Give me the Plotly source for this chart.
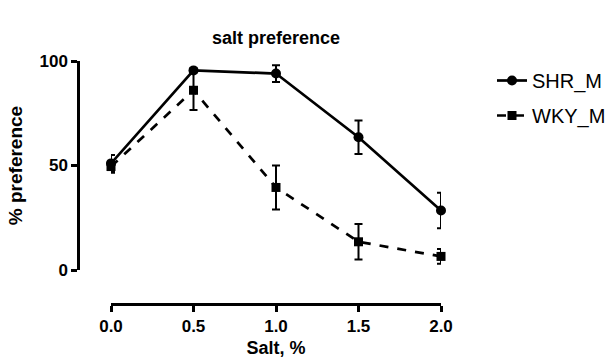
import plotly.graph_objects as go

salt = [0.0, 0.5, 1.0, 1.5, 2.0]
shr_m = [51, 95.5, 94, 63.5, 28.5]
shr_err = [4, 1, 4, 8, 8.5]
wky_m = [49.5, 86, 39.5, 13.5, 6.5]
wky_err = [3, 9.5, 10.5, 8.5, 3.5]
x_ticks = [0.0, 0.5, 1.0, 1.5, 2.0]
x_tick_labels = ["0.0", "0.5", "1.0", "1.5", "2.0"]
y_ticks = [0, 50, 100]

FONT = "Liberation Sans, Arial, sans-serif"

fig = go.Figure()
fig.add_trace(go.Scatter(
    x=salt, y=shr_m, name="SHR_M", mode="lines+markers", legendgroup="a",
    line=dict(color="black", width=2.7),
    marker=dict(symbol="circle", size=10, color="black"),
    error_y=dict(type="data", array=shr_err, color="black", thickness=2, width=4),
    cliponaxis=False,
))
fig.add_trace(go.Scatter(
    x=salt, y=wky_m, name="WKY_M", mode="lines+markers", legendgroup="b",
    line=dict(color="black", width=2.7, dash="dash"),
    marker=dict(symbol="square", size=9, color="black"),
    error_y=dict(type="data", array=wky_err, color="black", thickness=2, width=4),
    cliponaxis=False,
))

fig.update_layout(
    width=610, height=362,
    margin=dict(l=78, r=169, t=61, b=58, autoexpand=False),
    paper_bgcolor="white", plot_bgcolor="white",
    font=dict(family=FONT, color="black"),
    title=dict(text="salt preference", x=276 / 610, xanchor="center",
               y=1 - 38 / 362, yanchor="middle", font=dict(size=18, weight="bold")),
    showlegend=True,
    legend=dict(x=(492 - 78) / 363, y=1 - (61 - 61) / 243, xanchor="left", yanchor="top",
                font=dict(size=20), tracegroupgap=6, itemwidth=30,
                bgcolor="rgba(0,0,0,0)"),
    xaxis=dict(
        domain=[33 / 363, 1], range=[0, 2], anchor="free", position=0,
        tickvals=x_ticks, ticktext=x_tick_labels, automargin=False,
        showline=True, linecolor="black", linewidth=2.5,
        ticks="outside", ticklen=6, tickwidth=2.5, tickcolor="black",
        showgrid=False, zeroline=False,
        tickfont=dict(size=17, family=FONT, weight="bold"),
        title=dict(text="Salt, %", font=dict(size=18, weight="bold"), standoff=6),
    ),
    yaxis=dict(
        domain=[34 / 243, 1], range=[0, 100], anchor="free", position=0,
        tickvals=y_ticks, automargin=False,
        showline=True, linecolor="black", linewidth=2.5,
        ticks="outside", ticklen=6, tickwidth=2.5, tickcolor="black",
        showgrid=False, zeroline=False,
        tickfont=dict(size=17, family=FONT, weight="bold"),
        title=dict(text="% preference", font=dict(size=19, weight="bold"), standoff=10),
    ),
)

fig.write_html("out.html", config={"displayModeBar": False},
               post_script="document.body.style.margin='0';")
